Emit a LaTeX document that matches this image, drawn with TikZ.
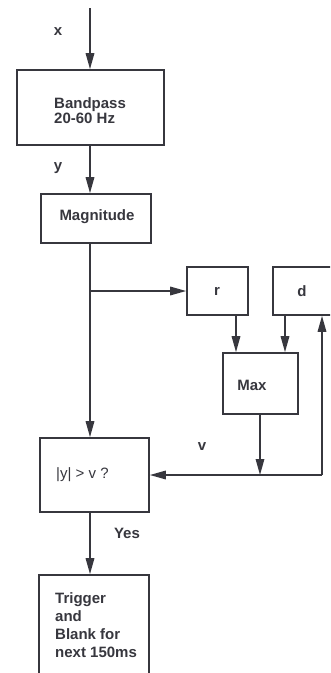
\documentclass[tikz,border=0pt]{standalone}
\usepackage{fontspec}
\setmainfont{Liberation Sans}
\usetikzlibrary{arrows.meta,calc}
\definecolor{ink}{RGB}{55,55,62}
\begin{document}
\begin{tikzpicture}[x=1pt,y=-1pt,
  box/.style={draw=ink,line width=1.6pt,minimum width=#1,inner sep=0pt},
  txt/.style={text=ink,font=\fontsize{15}{15}\selectfont\bfseries,inner sep=0pt,align=left},
  conn/.style={draw=ink,line width=1.6pt,-{Triangle[length=16pt,width=8.5pt]}},
  plain/.style={draw=ink,line width=1.6pt}]
\useasboundingbox (0,0) rectangle (330,673);
\clip (0,0) rectangle (330,673);
\fill[white] (0,0) rectangle (330,673);
% boxes
\node[box=147pt,minimum height=75pt] (bp) at (90.5,107.5) {};
\node[box=110pt,minimum height=49pt] (mag) at (96,218.5) {};
\node[box=61pt,minimum height=48pt] (r) at (217.5,291) {};
\node[box=67pt,minimum height=48pt] (d) at (306.5,291) {};
\node[box=75pt,minimum height=61pt] (max) at (260.5,383.5) {};
\node[box=109pt,minimum height=74pt] (ygt) at (94.5,475) {};
\node[box=110pt,minimum height=105pt] (trig) at (94,627.5) {};
% texts
\node[txt,anchor=west] (tbp) at (54,111) {Bandpass\\20-60 Hz};
\node[txt] (tmag) at (97,217) {Magnitude};
\node[txt] (tr) at (217,291) {r};
\node[txt] (td) at (302,291) {d};
\node[txt] (tmax) at (252,385) {Max};
\node[txt,anchor=west,font=\fontsize{15}{15}\selectfont] (tygt) at (56,475) {|y| > v ?};
\node[txt,anchor=west,font=\fontsize{15}{18}\selectfont\bfseries] (ttrig) at (55,625) {Trigger\\and\\Blank for\\next 150ms};
% labels
\node[txt] (lx) at (58,32) {x};
\node[txt] (ly) at (58,168) {y};
\node[txt] (lv) at (202,447) {v};
\node[txt] (lyes) at (127,533) {Yes};
% coordinates
\coordinate (in) at (90,8);
\coordinate (br) at (90,291);
\coordinate (mj) at (260,475);
\coordinate (fb) at (322,475);
\coordinate (ra) at (236,316);
\coordinate (da) at (285,316);
% connectors
\draw[conn] (in) -- (in |- bp.north);
\draw[conn] (bp.south -| in) -- (in |- mag.north);
\draw[conn] (mag.south -| in) -- (in |- ygt.north);
\draw[conn] (br) -- (r.west);
\draw[conn] (ra) -- (ra |- max.north);
\draw[conn] (da) -- (da |- max.north);
\draw[conn] (max.south -| mj) -- (mj);
\draw[conn] (fb) -- (fb |- d.south);
\draw[conn] (fb) -- (ygt.east);
\draw[conn] (ygt.south -| in) -- (in |- trig.north);
\end{tikzpicture}
\end{document}
